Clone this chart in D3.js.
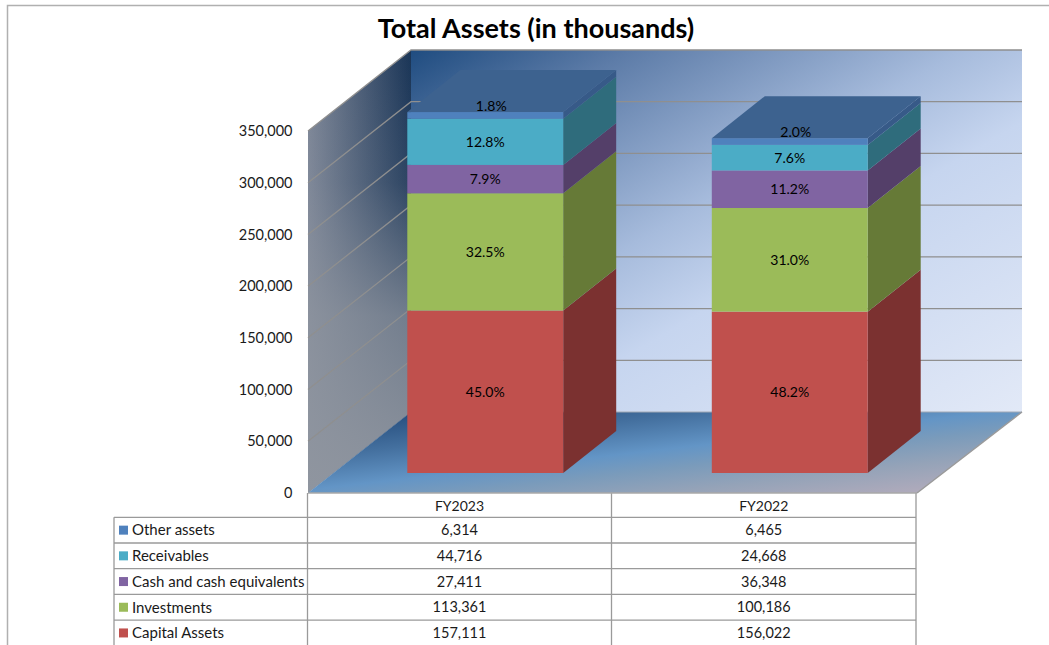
<!DOCTYPE html>
<html>
<head>
<meta charset="utf-8">
<script src="https://cdn.jsdelivr.net/npm/d3@7"></script>
<style>
html, body { margin: 0; padding: 0; background: #fff; overflow: hidden; }
svg { display: block; font-family: Lato, "Open Sans", sans-serif; }
</style>
</head>
<body>
<svg></svg>
<script>
const width = 1049;
const height = 645;

const title = "Total Assets (in thousands)";
const years = ["FY2023", "FY2022"];
// bottom of the stack first
const seriesNames = ["Capital Assets", "Investments", "Cash and cash equivalents", "Receivables", "Other assets"];
const fy2023 = [157111, 113361, 27411, 44716, 6314];
const fy2022 = [156022, 100186, 36348, 24668, 6465];
const yTicks = [0, 50000, 100000, 150000, 200000, 250000, 300000, 350000];

const frontColors = ["#c0504d", "#9bbb59", "#8064a2", "#4bacc6", "#4f81bd"];
const sideColors = ["#7b3130", "#667a37", "#543f69", "#2f6c7c", "#375a88"];
const topColor = "#3d628f";
const gridColor = "#8f8f8f";
const tableLine = "#9a9a9a";

// plot box on the front plane
const left = 308, right = 917, floorY = 493, topY = 131;
// how far the back wall is pushed by the 3d view
const wallDx = 103, wallDy = -81;
const wallRight = right + wallDx + 2;
// where the bars stand in the depth and how deep they are
const barDx = 25, barDy = -20, depthDx = 53, depthDy = -42;

let svg = d3.select("svg")
    .attr("width", width)
    .attr("height", height);

//Create X and Y scale
let xScale = d3.scaleBand()
    .domain(years)
    .range([left, right])
    .paddingInner(0.488)
    .paddingOuter(0.244);
let yScale = d3.scaleLinear()
    .domain([0, 350000])
    .range([floorY, topY]);

let fmt = d3.format(",");
let pct = d3.format(".1%");
let poly = pts => pts.map(p => p.join(",")).join(" ");

// gradients
let defs = svg.append("defs");
function gradient(id, x1, y1, x2, y2, stops) {
    let g = defs.append("linearGradient")
        .attr("id", id)
        .attr("x1", x1).attr("y1", y1).attr("x2", x2).attr("y2", y2);
    stops.forEach(s => g.append("stop")
        .attr("offset", s[0])
        .attr("stop-color", s[1])
        .attr("stop-opacity", s[2] === undefined ? 1 : s[2]));
}
gradient("backWall", 0, 0, 1, 1, [[0, "#1f4c80"], [0.18, "#5d7ca8"], [0.45, "#a6bbdc"], [0.6, "#c6d5ef"], [1, "#e2e9f7"]]);
gradient("sideWall", 0, 0, 1, 0, [[0, "#7e8798"], [1, "#1a3557"]]);
gradient("sideFade", 0, 0, 0, 1, [[0, "#8f959f", 0], [0.3, "#8f959f", 0.15], [0.6, "#8f959f", 0.75], [1, "#8f959f", 1]]);
gradient("floor", 0, 0, 1, 1, [[0, "#1c4272"], [0.28, "#44709f"], [0.48, "#6395c6"], [0.6, "#7a9bbb"], [0.75, "#95a3b8"], [1, "#bcaebd"]]);

// frame
svg.append("path")
    .attr("d", `M7.5,${height} V5.5 H${width}`)
    .attr("fill", "none")
    .attr("stroke", "#b0b0b0")
    .attr("stroke-width", 1.5);

svg.append("text")
    .attr("x", 536)
    .attr("y", 38)
    .attr("text-anchor", "middle")
    .attr("font-size", 27)
    .attr("font-weight", 700)
    .attr("fill", "#000")
    .text(title);

// walls and floor
let y0 = yScale(0), yTop = yScale(350000);
let sidePts = poly([[left, yTop], [left + wallDx, yTop + wallDy], [left + wallDx, y0 + wallDy], [left, y0]]);
svg.append("polygon")
    .attr("points", sidePts)
    .attr("fill", "url(#sideWall)");
svg.append("polygon")
    .attr("points", sidePts)
    .attr("fill", "url(#sideFade)");
svg.append("rect")
    .attr("x", left + wallDx)
    .attr("y", yTop + wallDy)
    .attr("width", wallRight - left - wallDx)
    .attr("height", y0 - yTop)
    .attr("fill", "url(#backWall)");
svg.append("polygon")
    .attr("points", poly([[left, y0], [left + wallDx, y0 + wallDy], [wallRight, y0 + wallDy], [right, y0]]))
    .attr("fill", "url(#floor)");

// gridlines run along the side wall then across the back wall
let gridG = svg.append("g");
gridG.selectAll("polyline")
    .data(yTicks.slice(1))
    .enter()
    .append("polyline")
        .attr("points", d => poly([[left, yScale(d)], [left + wallDx, yScale(d) + wallDy], [wallRight, yScale(d) + wallDy]]))
        .attr("fill", "none")
        .attr("stroke", gridColor)
        .attr("stroke-width", 1.3);
svg.append("line")
    .attr("x1", left + wallDx).attr("x2", wallRight)
    .attr("y1", y0 + wallDy).attr("y2", y0 + wallDy)
    .attr("stroke", "#a0a8b4");
svg.append("line")
    .attr("x1", right).attr("y1", y0)
    .attr("x2", wallRight).attr("y2", y0 + wallDy)
    .attr("stroke", "#9a9a9a")
    .attr("stroke-width", 1.5);

// stacked bars
let columns = [fy2023, fy2022];
let stackData = years.map((year, i) => {
    let row = { year: year };
    seriesNames.forEach((name, j) => { row[name] = columns[i][j]; });
    return row;
});
let layers = d3.stack().keys(seriesNames)(stackData);

let bw = xScale.bandwidth();
let layerG = svg.selectAll("g.layer")
    .data(layers)
    .enter()
    .append("g")
        .attr("class", "layer");

// side faces
layerG.selectAll("polygon.side")
    .data((d, i) => d.map(s => ({ s: s, i: i })))
    .enter()
    .append("polygon")
        .attr("class", "side")
        .attr("fill", d => sideColors[d.i])
        .attr("points", d => {
            let x = xScale(d.s.data.year) + barDx + bw;
            let a = yScale(d.s[0]) + barDy, b = yScale(d.s[1]) + barDy;
            return poly([[x, a], [x, b], [x + depthDx, b + depthDy], [x + depthDx, a + depthDy]]);
        });
// front faces
layerG.selectAll("rect")
    .data((d, i) => d.map(s => ({ s: s, i: i })))
    .enter()
    .append("rect")
        .attr("x", d => xScale(d.s.data.year) + barDx)
        .attr("y", d => yScale(d.s[1]) + barDy)
        .attr("width", bw)
        .attr("height", d => yScale(d.s[0]) - yScale(d.s[1]))
        .attr("fill", d => frontColors[d.i]);
// lid on the top of each stack
svg.selectAll("polygon.lid")
    .data(layers[layers.length - 1])
    .enter()
    .append("polygon")
        .attr("class", "lid")
        .attr("fill", topColor)
        .attr("points", d => {
            let x = xScale(d.data.year) + barDx;
            let b = yScale(d[1]) + barDy;
            return poly([[x, b], [x + bw, b], [x + bw + depthDx, b + depthDy], [x + depthDx, b + depthDy]]);
        });

// percent labels, the top one sits up on the lid
layers.forEach((layer, i) => {
    svg.selectAll("text.pct" + i)
        .data(layer)
        .enter()
        .append("text")
            .attr("class", "pct" + i)
            .attr("x", d => xScale(d.data.year) + barDx + bw / 2 + (i === 4 ? 6 : 0))
            .attr("y", d => (yScale(d[0]) + yScale(d[1])) / 2 + barDy + (i === 4 ? -9 : 0))
            .attr("dy", "0.35em")
            .attr("text-anchor", "middle")
            .attr("font-size", 14)
            .attr("fill", "#000")
            .text(d => pct((d[1] - d[0]) / d3.sum(seriesNames, k => d.data[k])));
});

// y axis
let yAxis = d3.axisLeft(yScale)
    .tickValues(yTicks)
    .tickFormat(fmt)
    .tickSize(0)
    .tickPadding(0);
let yAxisG = svg.append("g")
    .attr("transform", "translate(292.5,0)")
    .call(yAxis);
yAxisG.select(".domain").remove();
yAxisG.selectAll("text")
    .attr("font-family", "Lato, sans-serif")
    .attr("font-size", 14.5)
    .attr("fill", "#1a1a1a");

// data table
const rowH = 25.7;
const headerBottom = 517.3;
const tableLeft = 114;
const reversedNames = seriesNames.slice().reverse();
let rowY = i => headerBottom + i * rowH;
let xEdges = [left - 0.5, (left + right) / 2 - 1, right - 1];
let colCentre = j => (xEdges[j] + xEdges[j + 1]) / 2;

let tableG = svg.append("g");
// horizontal rules
tableG.selectAll("line.row")
    .data(d3.range(reversedNames.length + 1))
    .enter()
    .append("line")
        .attr("class", "row")
        .attr("x1", tableLeft).attr("x2", xEdges[2])
        .attr("y1", i => rowY(i)).attr("y2", i => rowY(i))
        .attr("stroke", tableLine)
        .attr("stroke-width", 1.3);
// vertical rules
tableG.selectAll("line.col")
    .data(xEdges)
    .enter()
    .append("line")
        .attr("class", "col")
        .attr("x1", d => d).attr("x2", d => d)
        .attr("y1", floorY).attr("y2", height)
        .attr("stroke", tableLine)
        .attr("stroke-width", 1.3);
tableG.append("line")
    .attr("x1", tableLeft).attr("x2", tableLeft)
    .attr("y1", headerBottom).attr("y2", height)
    .attr("stroke", tableLine)
    .attr("stroke-width", 1.3);
tableG.append("line")
    .attr("x1", left).attr("x2", right)
    .attr("y1", floorY).attr("y2", floorY)
    .attr("stroke", "#a8a8a8")
    .attr("stroke-width", 1.5);

tableG.selectAll("text.year")
    .data(years)
    .enter()
    .append("text")
        .attr("class", "year")
        .attr("x", (d, j) => colCentre(j))
        .attr("y", headerBottom - rowH / 2 + 2)
        .attr("dy", "0.35em")
        .attr("text-anchor", "middle")
        .attr("font-size", 14)
        .attr("fill", "#1a1a1a")
        .text(d => d);

tableG.selectAll("rect.key")
    .data(reversedNames)
    .enter()
    .append("rect")
        .attr("class", "key")
        .attr("x", 119)
        .attr("y", (d, i) => rowY(i) + rowH / 2 - 4.5)
        .attr("width", 9)
        .attr("height", 9)
        .attr("fill", d => frontColors[seriesNames.indexOf(d)]);

tableG.selectAll("text.name")
    .data(reversedNames)
    .enter()
    .append("text")
        .attr("class", "name")
        .attr("x", 132)
        .attr("y", (d, i) => rowY(i) + rowH / 2)
        .attr("dy", "0.35em")
        .attr("font-size", 15)
        .attr("fill", "#1a1a1a")
        .text(d => d);

columns.forEach((col, j) => {
    tableG.selectAll("text.val" + j)
        .data(col.slice().reverse())
        .enter()
        .append("text")
            .attr("class", "val" + j)
            .attr("x", colCentre(j))
            .attr("y", (d, i) => rowY(i) + rowH / 2)
            .attr("dy", "0.35em")
            .attr("text-anchor", "middle")
            .attr("font-size", 14.5)
            .attr("fill", "#1a1a1a")
            .text(d => fmt(d));
});
</script>
</body>
</html>
